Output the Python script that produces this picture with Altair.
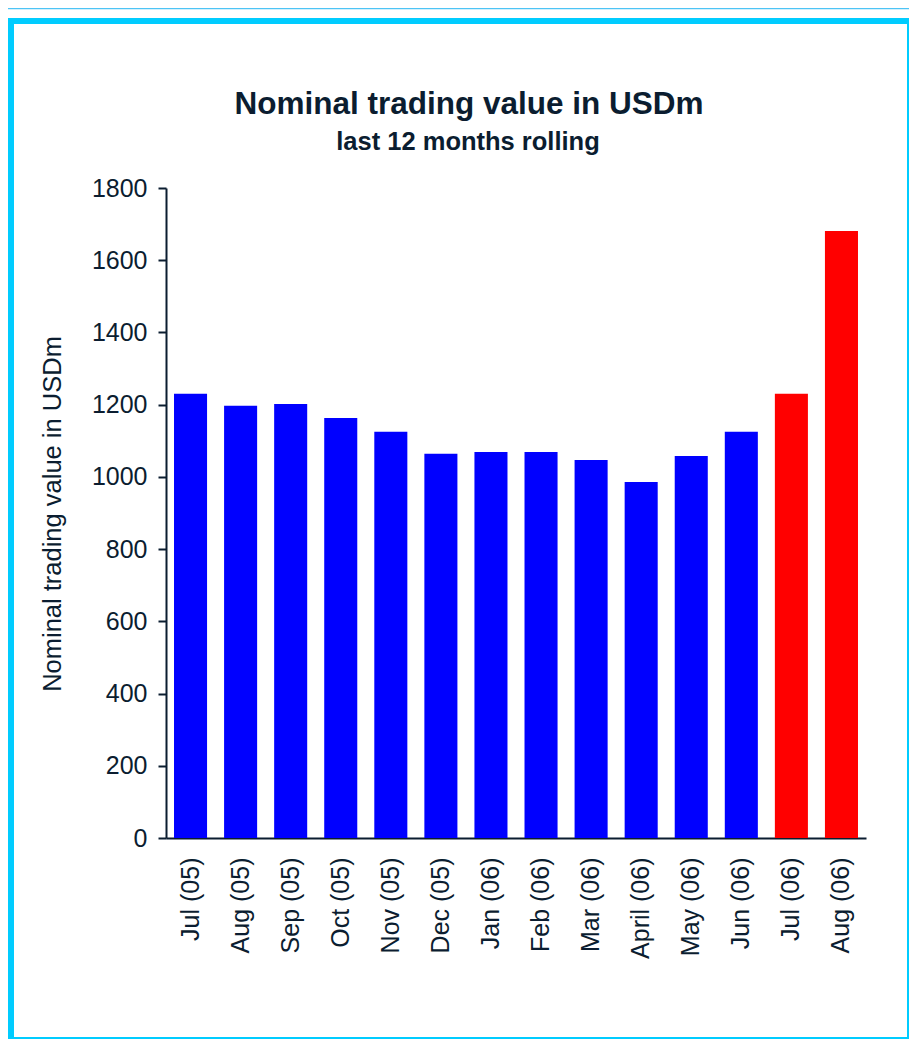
import altair as alt
import pandas as pd

months = ["Jul (05)", "Aug (05)", "Sep (05)", "Oct (05)", "Nov (05)", "Dec (05)",
          "Jan (06)", "Feb (06)", "Mar (06)", "April (06)", "May (06)", "Jun (06)",
          "Jul (06)", "Aug (06)"]
values = [1230, 1197, 1202, 1163, 1125, 1064, 1069, 1069, 1047, 986, 1058, 1125, 1230, 1681]
groups = ["past"] * 12 + ["recent"] * 2
y_ticks = [0, 200, 400, 600, 800, 1000, 1200, 1400, 1600, 1800]

title_text = "Nominal trading value in USDm"
subtitle_text = "last 12 months rolling"
y_title_text = "Nominal trading value in USDm"

INK = "#0b1d30"
FRAME = "#00ccff"
BAND = "#4dc4f5"
FONT = "Liberation Sans"

df = pd.DataFrame({"month": months, "value": values, "group": groups})

bars = alt.Chart(df).mark_bar().encode(
    x=alt.X("month:N", sort=months,
            scale=alt.Scale(paddingInner=0.34, paddingOuter=0.16),
            axis=alt.Axis(title=None, labelAngle=-90, ticks=False, labelPadding=19,
                          labelFontSize=25, labelColor=INK, domainColor=INK,
                          domainWidth=2, grid=False)),
    y=alt.Y("value:Q", scale=alt.Scale(domain=[0, 1800], nice=False),
            axis=alt.Axis(title=None, values=y_ticks, format="d", tickSize=8, tickWidth=2,
                          tickColor=INK, domainColor=INK, domainWidth=2,
                          labelPadding=11, labelFontSize=25, labelColor=INK,
                          grid=False)),
    color=alt.Color("group:N", legend=None,
                    scale=alt.Scale(domain=["past", "recent"], range=["#0000ff", "#ff0000"])),
)

one = alt.Data(values=[{"k": 1}])

title = alt.Chart(one).mark_text(
    fontSize=31.5, fontWeight="bold", color=INK, align="center", baseline="alphabetic", font=FONT
).encode(x=alt.value(303), y=alt.value(-74), text=alt.value(title_text))

subtitle = alt.Chart(one).mark_text(
    fontSize=25.5, fontWeight="bold", color=INK, align="center", baseline="alphabetic", font=FONT
).encode(x=alt.value(302), y=alt.value(-38), text=alt.value(subtitle_text))

ytitle = alt.Chart(one).mark_text(
    fontSize=25.5, color=INK, align="center", baseline="alphabetic", angle=270, font=FONT
).encode(x=alt.value(-105), y=alt.value(326), text=alt.value(y_title_text))

def frame_rect(x1, x2, y1, y2, color):
    return alt.Chart(one).mark_rect(color=color).encode(
        x=alt.value(x1), x2=alt.value(x2), y=alt.value(y1), y2=alt.value(y2))

frame = [
    frame_rect(-158, 743, -180, -178.7, BAND),
    frame_rect(-158, -152, -170, 851, FRAME),
    frame_rect(-158, 743, -170, -164, FRAME),
    frame_rect(741, 743, -170, 851, FRAME),
    frame_rect(-158, 743, 849, 851, FRAME),
]

chart = alt.layer(*frame, bars, title, subtitle, ytitle).properties(
    width=700, height=650,
    autosize=alt.AutoSizeParams(type="none"),
    padding={"left": 158, "top": 180, "right": 43, "bottom": 201},
    background="white",
).configure(font=FONT).configure_view(strokeWidth=0)

chart.save("out.html", embed_options={"renderer": "svg", "actions": False})
